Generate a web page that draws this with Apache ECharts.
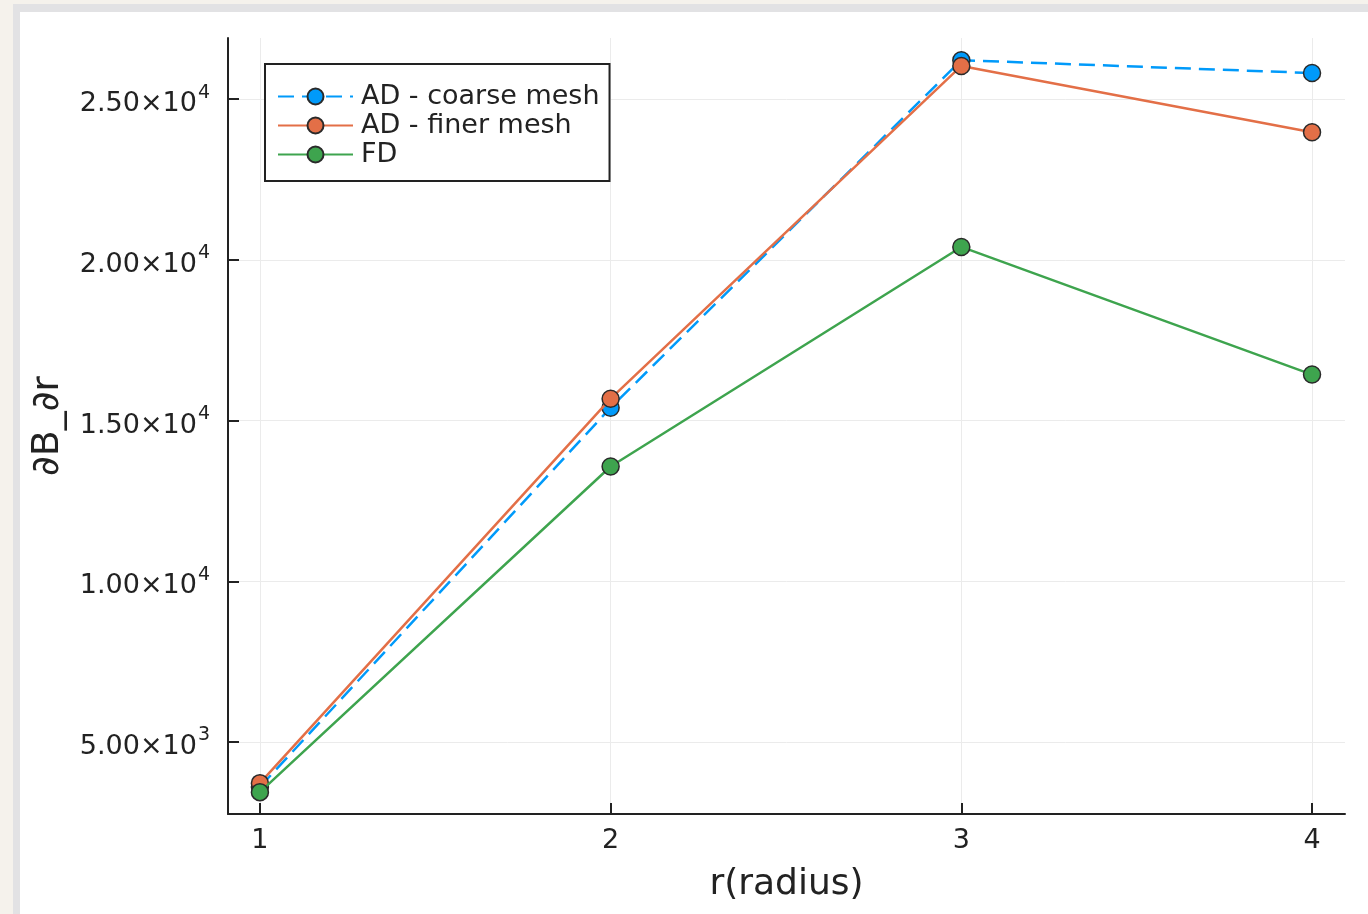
<!DOCTYPE html>
<html>
<head>
<meta charset="utf-8">
<title>dB/dr vs radius</title>
<script src="https://cdn.jsdelivr.net/npm/echarts@6/dist/echarts.min.js"></script>
<style>
  html, body { margin: 0; padding: 0; background: #f5f2ec; }
  .frame { position: absolute; left: 13px; top: 4px; right: 0; bottom: 0; background: #e2e2e4; }
  .card { position: absolute; left: 20px; top: 12px; right: 0; bottom: 0; background: #fff; }
  #main { position: absolute; left: 0; top: 0; width: 1368px; height: 914px; }
</style>
</head>
<body>
<div class="frame"></div>
<div class="card"></div>
<div id="main"></div>
<script>
// radius values
const radius = [1, 2, 3, 4]
// dB/dr series
const coarseMesh = [3600, 15400, 26210, 25810]
const finerMesh = [3720, 15680, 26030, 23970]
const fdValues = [3440, 13570, 20400, 16430]
// y tick values and labels (mantissa x 10^exp)
const yTicks = [5000, 10000, 15000, 20000, 25000]
const yMantissa = ['5.00', '1.00', '1.50', '2.00', '2.50']
const yExp = ['3', '4', '4', '4', '4']

const font = '"DejaVu Sans", sans-serif'
const ink = '#222'

const chart = echarts.init(document.getElementById('main'))

const markerStyle = (color) => ({ color: color, borderColor: '#2a2a2a', borderWidth: 1.5 })

const option = {
  backgroundColor: 'transparent',
  animation: false,
  textStyle: { fontFamily: font, color: ink },
  grid: { left: 228, right: 23, top: 38, bottom: 100 },
  legend: {
    orient: 'vertical',
    left: 265,
    top: 64,
    padding: [18, 10, 12, 12],
    itemGap: 0,
    itemWidth: 75,
    itemHeight: 20,
    borderColor: ink,
    borderWidth: 2,
    borderRadius: 0,
    backgroundColor: '#fff',
    textStyle: { fontFamily: font, fontSize: 27, color: ink, lineHeight: 29, padding: [0, 0, 0, 3] },
    data: ['AD - coarse mesh', 'AD - finer mesh', 'FD'],
  },
  xAxis: {
    type: 'value',
    min: 0.909,
    max: 4.094,
    name: 'r(radius)',
    nameLocation: 'middle',
    nameGap: 53,
    nameTextStyle: { fontFamily: font, fontSize: 36, color: ink },
    axisLine: { onZero: false, lineStyle: { color: ink, width: 2 } },
    axisTick: { inside: true, length: 11, customValues: radius, lineStyle: { color: ink, width: 2 } },
    axisLabel: { customValues: radius, margin: 13, fontSize: 27, color: ink, fontFamily: font },
    splitLine: { show: true, lineStyle: { color: '#ebebeb', width: 1 } },
  },
  yAxis: {
    type: 'value',
    min: 2760,
    max: 26900,
    name: '∂B_∂r',
    nameLocation: 'middle',
    nameGap: 161,
    nameTextStyle: { fontFamily: font, fontSize: 38, color: ink },
    axisLine: { show: true, onZero: false, lineStyle: { color: ink, width: 2 } },
    axisTick: { show: true, inside: true, length: 11, customValues: yTicks, lineStyle: { color: ink, width: 2 } },
    axisLabel: {
      customValues: yTicks,
      margin: 18,
      formatter: (v) => {
        const i = yTicks.indexOf(v)
        if (i < 0) return ''
        return '{m|' + yMantissa[i] + '×10}{e|' + yExp[i] + '}'
      },
      rich: {
        m: { fontFamily: font, fontSize: 27, color: ink, padding: [10, 0, 0, 0] },
        e: { fontFamily: font, fontSize: 19, color: ink, padding: [0, 0, 13, 1] },
      },
    },
    splitLine: { show: true, lineStyle: { color: '#ebebeb', width: 1 } },
  },
  series: [
    {
      name: 'AD - coarse mesh',
      type: 'line',
      data: radius.map((r, i) => [r, coarseMesh[i]]),
      symbol: 'circle',
      symbolSize: 17,
      lineStyle: { color: '#009AFA', width: 2.5, type: [16, 8] },
      itemStyle: markerStyle('#009AFA'),
      z: 2,
    },
    {
      name: 'AD - finer mesh',
      type: 'line',
      data: radius.map((r, i) => [r, finerMesh[i]]),
      symbol: 'circle',
      symbolSize: 17,
      lineStyle: { color: '#E36F47', width: 2.5 },
      itemStyle: markerStyle('#E36F47'),
      z: 3,
    },
    {
      name: 'FD',
      type: 'line',
      data: radius.map((r, i) => [r, fdValues[i]]),
      symbol: 'circle',
      symbolSize: 17,
      lineStyle: { color: '#3EA44E', width: 2.5 },
      itemStyle: markerStyle('#3EA44E'),
      z: 4,
    },
  ],
}

chart.setOption(option)
</script>
</body>
</html>
